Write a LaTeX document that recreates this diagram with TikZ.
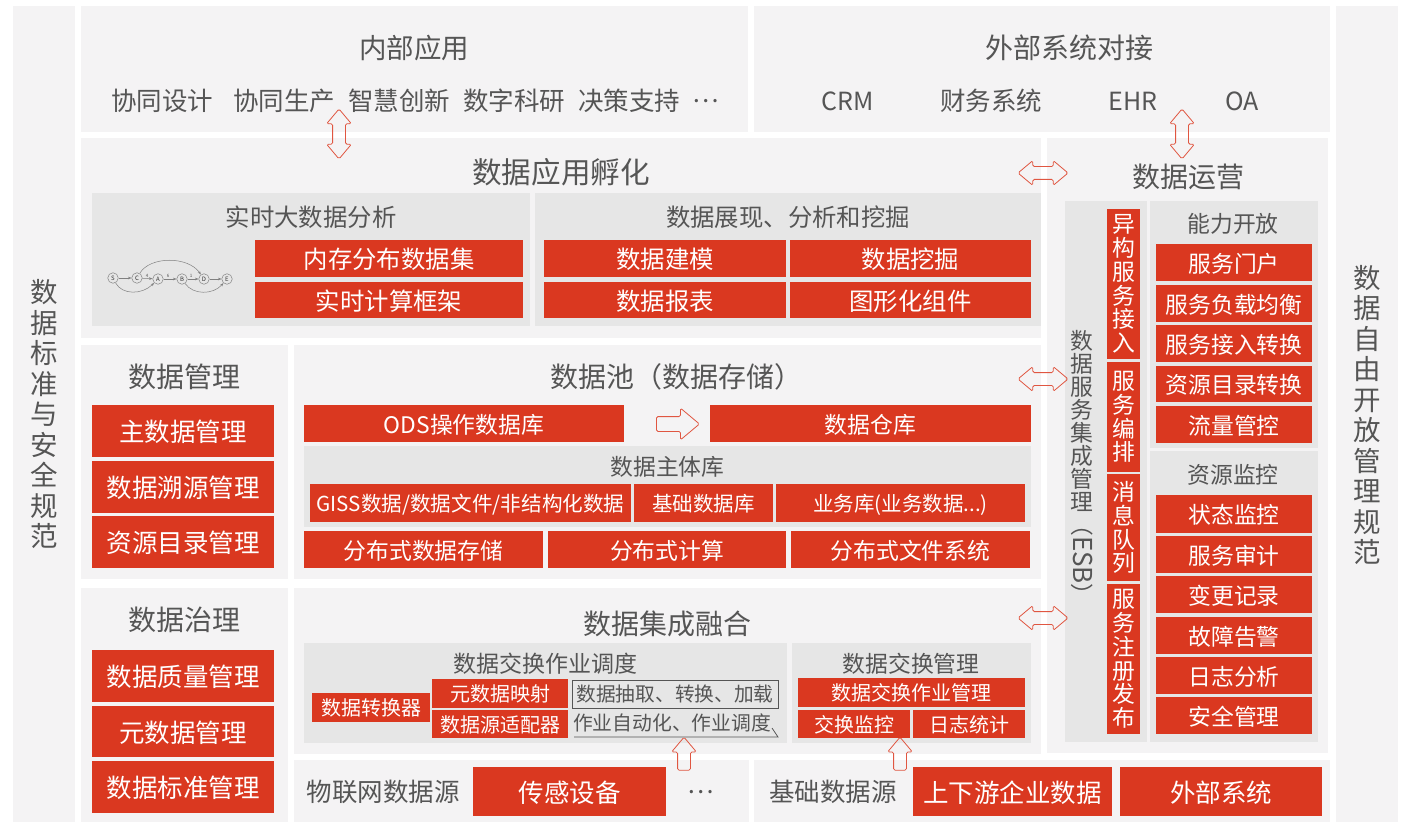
\documentclass[tikz,border=0pt]{standalone}
\usepackage{fontspec}
\setmainfont{Noto Sans CJK SC}
\usetikzlibrary{shapes.arrows,arrows.meta}
\definecolor{redc}{HTML}{DA3820}
\definecolor{panelc}{HTML}{F4F3F4}
\definecolor{grayc}{HTML}{E6E6E6}
\definecolor{textc}{HTML}{555555}
\newcommand{\fs}[1]{\fontsize{#1}{#1}\selectfont}
% box given by its two corners
\newcommand{\cornerbox}[7][]{%
  \pgfmathsetmacro\boxcx{(#3+#5)/2}\pgfmathsetmacro\boxcy{(#4+#6)/2}%
  \pgfmathsetmacro\boxw{#5-#3}\pgfmathsetmacro\boxh{#6-#4}%
  \node[inner sep=0pt,minimum width=\boxw pt,minimum height=\boxh pt,#1] (#2) at (\boxcx,\boxcy) {#7};}
\tikzset{
  panel/.style={fill=panelc},
  graybox/.style={fill=grayc},
  redbox/.style={fill=redc,text=white,font=\fs{#1},text height=#1*.9pt,text depth=#1*.06pt},
  redbox/.default=22.8,
  vredbox/.style={fill=redc,text=white,align=center,font=\fontsize{22.8}{23.8}\selectfont},
  lbl/.style={text=textc,inner sep=0pt,font=\fs{#1}},
  vlbl/.style={text=textc,inner sep=0pt,align=center,font=\fontsize{27.5}{30.5}\selectfont},
  darrow/.style={double arrow,draw=redc!85,line width=.8pt,rounded corners=1.5pt,inner sep=0pt,inner ysep=6pt,
    minimum height=50pt,double arrow head extend=6pt,double arrow tip angle=80},
  sarrow/.style={single arrow,draw=redc!85,line width=.8pt,rounded corners=1.5pt,inner sep=0pt,inner ysep=6pt,
    minimum height=33pt,single arrow head extend=6pt,single arrow tip angle=80},
  gnode/.style={circle,draw=gray,fill=grayc,line width=.5pt,inner sep=0pt,minimum size=10.5pt,text=black!80,font=\fs{6}},
  gedge/.style={draw=gray,line width=.5pt,-{Stealth[length=3.5pt,width=2.6pt]}},
  glbl/.style={inner sep=0pt,text=textc,font=\fs{4.5}}
}
\begin{document}
\begin{tikzpicture}[x=1pt,y=-1pt]
  \useasboundingbox (0,0) rectangle (1416,834);
  % outer panels
  \cornerbox[panel]{pLeft}{13}{6}{75}{822}{}
  \cornerbox[panel]{pRight}{1336}{6}{1398}{822}{}
  \cornerbox[panel]{pInner}{81}{6}{748}{132}{}
  \cornerbox[panel]{pOuter}{754}{6}{1330}{132}{}
  \cornerbox[panel]{pApp}{81}{138}{1041}{338}{}
  \cornerbox[panel]{pOps}{1047}{138}{1328}{753}{}
  \cornerbox[panel]{pMgmt}{81}{345}{288}{579}{}
  \cornerbox[panel]{pPool}{294}{345}{1041}{579}{}
  \cornerbox[panel]{pGov}{81}{588}{288}{822}{}
  \cornerbox[panel]{pInteg}{294}{588}{1041}{754}{}
  \cornerbox[panel]{pIot}{294}{760}{749}{822}{}
  \cornerbox[panel]{pBase}{754}{760}{1330}{822}{}
  % side texts
  \node[vlbl] (tLeft) at (44,414) {数\\据\\标\\准\\与\\安\\全\\规\\范};
  \node[vlbl] (tRight) at (1367,415) {数\\据\\自\\由\\开\\放\\管\\理\\规\\范};
  % top row
  \node[lbl=27.5] (tInner) at (414,48) {内部应用};
  \node[lbl=28] (tOuter) at (1069,48) {外部系统对接};
  \node[lbl=25.5] (a1) at (162,101) {协同设计};
  \node[lbl=25.5] (a2) at (284,101) {协同生产};
  \node[lbl=25.5] (a3) at (399,101) {智慧创新};
  \node[lbl=25.5] (a4) at (514,101) {数字科研};
  \node[lbl=25.5] (a5) at (629,101) {决策支持};
  \node[lbl=25] (a6) at (706,101) {…};
  \node[lbl=25] (b1) at (848,101) {CRM};
  \node[lbl=25.5] (b2) at (991,101) {财务系统};
  \node[lbl=25] (b3) at (1133,101) {EHR};
  \node[lbl=25] (b4) at (1242,101) {OA};
  % data application
  \node[lbl=29.6] (tApp) at (561,172) {数据应用孵化};
  \cornerbox[graybox]{gReal}{92}{193}{530}{326}{}
  \cornerbox[graybox]{gShow}{535}{193}{1041}{326}{}
  \node[lbl=24.4] (tReal) at (311,217) {实时大数据分析};
  \node[lbl=24.4] (tShow) at (788,217) {数据展现、分析和挖掘};
  \cornerbox[redbox=24.4]{rMem}{255}{240}{523}{277}{内存分布数据集}
  \cornerbox[redbox=24.4]{rCalc}{255}{282}{523}{318}{实时计算框架}
  \cornerbox[redbox=24.4]{rModel}{544}{240}{786}{277}{数据建模}
  \cornerbox[redbox=24.4]{rMine}{790}{240}{1031}{277}{数据挖掘}
  \cornerbox[redbox=24.4]{rReport}{544}{282}{786}{318}{数据报表}
  \cornerbox[redbox=24.4]{rChart}{790}{282}{1031}{318}{图形化组件}
  % small graph
  \node[gnode] (S) at (113,278) {S};
  \node[gnode] (C) at (137,278) {C};
  \node[gnode] (A) at (158,279) {A};
  \node[gnode] (B) at (182,279) {B};
  \node[gnode] (D) at (204,279) {D};
  \node[gnode] (E) at (227,279) {E};
  \draw[gedge] (S) -- (C);
  \draw[gedge] (C) -- (A);
  \draw[gedge] (A) -- (B);
  \draw[gedge] (B) -- (D);
  \draw[gedge] (D) -- (E);
  \draw[gedge] (C) .. controls (150,256) and (188,256) .. (D);
  \draw[gedge] (S) .. controls (122,295) and (142,295) .. (A);
  \draw[gedge] (B) .. controls (193,295) and (213,295) .. (E);
  \node[glbl] (l1) at (147,275.5) {4};
  \node[glbl] (l2) at (168,275.5) {6};
  \node[glbl] (l3) at (191,275.5) {1};
  % data management
  \node[lbl=28] (tMgmt) at (184,377) {数据管理};
  \cornerbox[redbox=25.5]{rMain}{92}{405}{274}{457}{主数据管理}
  \cornerbox[redbox=25.5]{rTrace}{92}{461}{274}{513}{数据溯源管理}
  \cornerbox[redbox=25.5]{rCat}{92}{516}{274}{568}{资源目录管理}
  % data governance
  \node[lbl=28] (tGov) at (184,620) {数据治理};
  \cornerbox[redbox=25.5]{rQual}{92}{650}{274}{702}{数据质量管理}
  \cornerbox[redbox=25.5]{rMeta}{92}{706}{274}{757}{元数据管理}
  \cornerbox[redbox=25.5]{rStd}{92}{761}{274}{813}{数据标准管理}
  % data pool
  \node[lbl=28] (tPool) at (676,377) {数据池（数据存储）};
  \cornerbox[redbox]{rOds}{304}{405}{624}{442}{ODS操作数据库}
  \cornerbox[redbox]{rWare}{710}{405}{1031}{442}{数据仓库}
  \cornerbox[graybox]{gSubj}{304}{446}{1031}{527}{}
  \node[lbl=22.8] (tSubj) at (667.5,467) {数据主体库};
  \cornerbox[redbox=20.6]{rGiss}{310}{484}{631}{522}{GISS数据/数据文件/非结构化数据}
  \cornerbox[redbox=20.5]{rBase}{634}{484}{773}{522}{基础数据库}
  \cornerbox[redbox=20.5]{rBiz}{776}{484}{1025}{522}{业务库(业务数据...)}
  \cornerbox[redbox]{rStore}{304}{531}{543}{568}{分布式数据存储}
  \cornerbox[redbox]{rComp}{548}{531}{786}{568}{分布式计算}
  \cornerbox[redbox]{rFile}{791}{531}{1030}{568}{分布式文件系统}
  % data integration
  \node[lbl=28] (tInteg) at (667,624) {数据集成融合};
  \cornerbox[graybox]{gJob}{304}{643}{787}{743}{}
  \cornerbox[graybox]{gExch}{792}{643}{1031}{743}{}
  \node[lbl=23] (tJob) at (545,664) {数据交换作业调度};
  \node[lbl=22.8] (tExch) at (911,664) {数据交换管理};
  \cornerbox[redbox=20]{rConv}{312}{693}{430}{722}{数据转换器}
  \cornerbox[redbox=20]{rMap}{432}{679}{568}{708}{元数据映射}
  \cornerbox[redbox=20]{rAdapt}{432}{710}{568}{738}{数据源适配器}
  \cornerbox[draw=textc,line width=.8pt,lbl=19.7]{rExtract}{572}{680}{778}{708}{数据抽取、转换、加载}
  \node[lbl=19.8] (tAuto) at (672,723) {作业自动化、作业调度};
  \coordinate (autoA) at (574,737);
  \coordinate (autoB) at (778,737);
  \coordinate (autoC) at (772,728);
  \draw[textc,line width=.8pt] (autoA) -- (autoB) -- (autoC);
  \cornerbox[redbox=20]{rExJob}{798}{678}{1025}{707}{数据交换作业管理}
  \cornerbox[redbox=20]{rExMon}{798}{710}{910}{738}{交换监控}
  \cornerbox[redbox=20]{rExLog}{913}{710}{1025}{738}{日志统计}
  % sources
  \node[lbl=25.5] (tIot) at (383,792) {物联网数据源};
  \cornerbox[redbox=25.5]{rSensor}{473}{767}{666}{816}{传感设备}
  \node[lbl=25] (tDots) at (701,792) {…};
  \node[lbl=25.5] (tBase) at (833,792) {基础数据源};
  \cornerbox[redbox=25.5]{rUp}{913}{767}{1112}{816}{上下游企业数据}
  \cornerbox[redbox=25.5]{rExt}{1120}{767}{1322}{816}{外部系统}
  % data operations
  \node[lbl=28] (tOps) at (1188,177) {数据运营};
  \cornerbox[graybox]{gEsb}{1065}{201}{1147}{742}{}
  \cornerbox[graybox]{gOpen}{1150}{201}{1318}{448}{}
  \cornerbox[graybox]{gMon}{1150}{451}{1318}{742}{}
  \node[text=textc,inner sep=0pt,align=center,font=\fontsize{22.8}{23.1}\selectfont] (tEsb) at (1082,421)
    {数\\据\\服\\务\\集\\成\\管\\理};
  \node[lbl=22.8,rotate=-90] (tEsbB) at (1082,560) {（{\fs{26}ESB}）};
  \cornerbox[vredbox]{v1}{1107}{209}{1140}{359}{异\\构\\服\\务\\接\\入}
  \cornerbox[vredbox]{v2}{1107}{362}{1140}{472}{服\\务\\编\\排}
  \cornerbox[vredbox]{v3}{1107}{474}{1140}{581}{消\\息\\队\\列}
  \cornerbox[vredbox]{v4}{1107}{584}{1140}{734}{服\\务\\注\\册\\发\\布}
  \node[lbl=22.8] (tOpen) at (1233,224) {能力开放};
  \cornerbox[redbox]{o1}{1156}{244}{1312}{281}{服务门户}
  \cornerbox[redbox]{o2}{1156}{285}{1312}{322}{服务负载均衡}
  \cornerbox[redbox]{o3}{1156}{325}{1312}{362}{服务接入转换}
  \cornerbox[redbox]{o4}{1156}{366}{1312}{402}{资源目录转换}
  \cornerbox[redbox]{o5}{1156}{406}{1312}{443}{流量管控}
  \node[lbl=22.8] (tMon) at (1233,475) {资源监控};
  \cornerbox[redbox]{m1}{1156}{495}{1312}{533}{状态监控}
  \cornerbox[redbox]{m2}{1156}{536}{1312}{573}{服务审计}
  \cornerbox[redbox]{m3}{1156}{576}{1312}{613}{变更记录}
  \cornerbox[redbox]{m4}{1156}{617}{1312}{654}{故障告警}
  \cornerbox[redbox]{m5}{1156}{657}{1312}{694}{日志分析}
  \cornerbox[redbox]{m6}{1156}{697}{1312}{734}{安全管理}
  % block arrows
  \node[darrow,rotate=90] (arrInner) at (339,134) {};
  \node[darrow,rotate=90] (arrEhr) at (1182,134) {};
  \node[darrow] (arrApp) at (1043,173) {};
  \node[darrow] (arrPool) at (1043,379) {};
  \node[darrow] (arrInteg) at (1043,618) {};
  \node[sarrow,inner ysep=7pt,minimum height=43pt,single arrow head extend=8.5pt] (arrOds) at (673.5,424) {};
  \node[sarrow,rotate=90] (arrIot) at (684,757.5) {};
  \node[sarrow,rotate=90] (arrBase) at (900,757.5) {};
\end{tikzpicture}
\end{document}
